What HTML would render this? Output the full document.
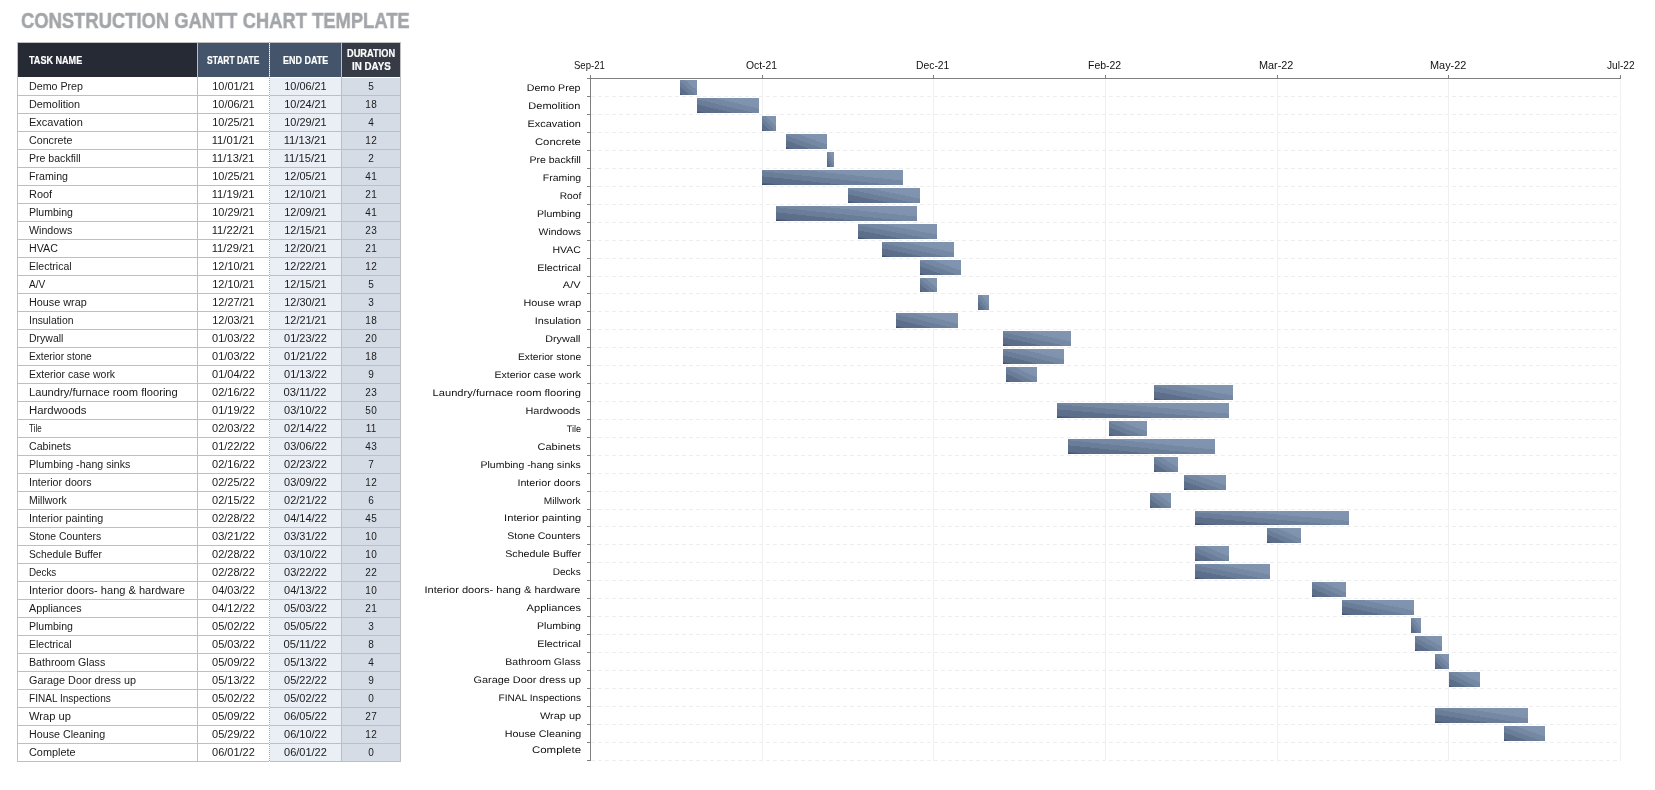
<!DOCTYPE html>
<html lang="en"><head><meta charset="utf-8"><title>Construction Gantt Chart Template</title>
<style>
html,body{margin:0;padding:0;background:#fff;}
body{width:1655px;height:790px;position:relative;overflow:hidden;font-family:"Liberation Sans",Arial,sans-serif;color:#1a1a1a;}
#tbl,#chart{position:absolute;left:0;top:0;width:1655px;height:790px;will-change:transform;}
#title{will-change:transform;}
.t{position:absolute;white-space:nowrap;}
.fx{display:inline-block;white-space:nowrap;}
.cell{position:absolute;height:17px;line-height:17px;font-size:10px;white-space:nowrap;overflow:hidden;}
.c0{left:18px;width:179px;}
.c0 .fx{margin-left:10.5px;transform-origin:0 50%;}
.c1{left:198px;width:71px;text-align:center;}
.c2{left:270px;width:71px;text-align:center;background:#eaeef5;}
.c3{left:342px;width:58px;text-align:center;background:#d6dce6;letter-spacing:0.3px;text-indent:0.3px;}
.hl{position:absolute;left:17px;width:384px;height:1px;background:#bfbfbf;}
.vl{position:absolute;width:1px;background:#bfbfbf;}
.hd{position:absolute;top:43px;height:34px;}
.ht{position:absolute;color:#fff;-webkit-text-stroke:0.2px #fff;font-weight:bold;font-size:10.4px;line-height:12px;white-space:nowrap;transform-origin:0 50%;}
.lab{position:absolute;right:1074.2px;height:18px;line-height:18px;font-size:9.6px;white-space:nowrap;text-align:right;color:#111;transform-origin:100% 50%;}
.xl{position:absolute;top:58px;font-size:10.5px;line-height:14px;white-space:nowrap;color:#111;transform-origin:0 50%;}
.bar{position:absolute;background:linear-gradient(to top right,#33425f 0,#4a5a77 4%,#56678a 8.5%,#5b6d88 8.5%,#5d6f8a 29%,#6a7d98 29%,#6b7e99 46%,#7488a3 46%,#7589a4 64.5%,#7f93ae 64.5%,#8195b0 100%);}
.gh{position:absolute;left:591px;width:1030px;height:1px;background:repeating-linear-gradient(to right,#eee 0,#eee 4.4px,transparent 4.4px,transparent 7px);}
.gv{position:absolute;width:1px;top:79px;height:682px;background:#f0f0f0;}
.tk{position:absolute;background:#7f7f7f;}
</style></head><body>
<div class="t" id="title" style="left:21.05px;top:8.5px;font-size:21.5px;font-weight:bold;color:#a3a6a9;-webkit-text-stroke:0.5px #a3a6a9;line-height:24px;transform-origin:0 50%;transform:scaleX(0.8550)">CONSTRUCTION GANTT CHART TEMPLATE</div>
<div id="tbl">
<div class="hd" style="left:18px;width:179px;background:#252a34;"></div><div class="hd" style="left:198px;width:71px;background:#44546a;"></div><div class="hd" style="left:270px;width:71px;background:#44546a;"></div><div class="hd" style="left:342px;width:58px;background:#363b45;"></div>
<div class="ht" style="left:29.00px;top:55.40px;transform:scaleX(0.8721)">TASK NAME</div><div class="ht" style="left:207.00px;top:55.40px;transform:scaleX(0.8141)">START DATE</div><div class="ht" style="left:283.30px;top:55.40px;transform:scaleX(0.8635)">END DATE</div><div class="ht" style="left:347.20px;top:48.40px;transform:scaleX(0.8889)">DURATION</div><div class="ht" style="left:352.00px;top:61.40px;transform:scaleX(0.9390)">IN DAYS</div>
<div class="cell c0" style="top:78px"><span class="fx" style="transform:scaleX(1.0673)">Demo Prep</span></div><div class="cell c1" style="top:78px"><span class="fx" style="transform:scaleX(1.0895)">10/01/21</span></div><div class="cell c2" style="top:78px"><span class="fx" style="transform:scaleX(1.0895)">10/06/21</span></div><div class="cell c3" style="top:78px">5</div>
<div class="cell c0" style="top:96px"><span class="fx" style="transform:scaleX(1.0826)">Demolition</span></div><div class="cell c1" style="top:96px"><span class="fx" style="transform:scaleX(1.0895)">10/06/21</span></div><div class="cell c2" style="top:96px"><span class="fx" style="transform:scaleX(1.0895)">10/24/21</span></div><div class="cell c3" style="top:96px">18</div>
<div class="cell c0" style="top:114px"><span class="fx" style="transform:scaleX(1.1000)">Excavation</span></div><div class="cell c1" style="top:114px"><span class="fx" style="transform:scaleX(1.0895)">10/25/21</span></div><div class="cell c2" style="top:114px"><span class="fx" style="transform:scaleX(1.0895)">10/29/21</span></div><div class="cell c3" style="top:114px">4</div>
<div class="cell c0" style="top:132px"><span class="fx" style="transform:scaleX(1.0683)">Concrete</span></div><div class="cell c1" style="top:132px"><span class="fx" style="transform:scaleX(1.1189)">11/01/21</span></div><div class="cell c2" style="top:132px"><span class="fx" style="transform:scaleX(1.1189)">11/13/21</span></div><div class="cell c3" style="top:132px">12</div>
<div class="cell c0" style="top:150px"><span class="fx" style="transform:scaleX(1.0563)">Pre backfill</span></div><div class="cell c1" style="top:150px"><span class="fx" style="transform:scaleX(1.1189)">11/13/21</span></div><div class="cell c2" style="top:150px"><span class="fx" style="transform:scaleX(1.1189)">11/15/21</span></div><div class="cell c3" style="top:150px">2</div>
<div class="cell c0" style="top:168px"><span class="fx" style="transform:scaleX(1.0629)">Framing</span></div><div class="cell c1" style="top:168px"><span class="fx" style="transform:scaleX(1.0895)">10/25/21</span></div><div class="cell c2" style="top:168px"><span class="fx" style="transform:scaleX(1.0895)">12/05/21</span></div><div class="cell c3" style="top:168px">41</div>
<div class="cell c0" style="top:186px"><span class="fx" style="transform:scaleX(1.0950)">Roof</span></div><div class="cell c1" style="top:186px"><span class="fx" style="transform:scaleX(1.1189)">11/19/21</span></div><div class="cell c2" style="top:186px"><span class="fx" style="transform:scaleX(1.0895)">12/10/21</span></div><div class="cell c3" style="top:186px">21</div>
<div class="cell c0" style="top:204px"><span class="fx" style="transform:scaleX(1.0537)">Plumbing</span></div><div class="cell c1" style="top:204px"><span class="fx" style="transform:scaleX(1.0895)">10/29/21</span></div><div class="cell c2" style="top:204px"><span class="fx" style="transform:scaleX(1.0895)">12/09/21</span></div><div class="cell c3" style="top:204px">41</div>
<div class="cell c0" style="top:222px"><span class="fx" style="transform:scaleX(1.0650)">Windows</span></div><div class="cell c1" style="top:222px"><span class="fx" style="transform:scaleX(1.1189)">11/22/21</span></div><div class="cell c2" style="top:222px"><span class="fx" style="transform:scaleX(1.0895)">12/15/21</span></div><div class="cell c3" style="top:222px">23</div>
<div class="cell c0" style="top:240px"><span class="fx" style="transform:scaleX(1.0692)">HVAC</span></div><div class="cell c1" style="top:240px"><span class="fx" style="transform:scaleX(1.1189)">11/29/21</span></div><div class="cell c2" style="top:240px"><span class="fx" style="transform:scaleX(1.0895)">12/20/21</span></div><div class="cell c3" style="top:240px">21</div>
<div class="cell c0" style="top:258px"><span class="fx" style="transform:scaleX(1.0487)">Electrical</span></div><div class="cell c1" style="top:258px"><span class="fx" style="transform:scaleX(1.0895)">12/10/21</span></div><div class="cell c2" style="top:258px"><span class="fx" style="transform:scaleX(1.0895)">12/22/21</span></div><div class="cell c3" style="top:258px">12</div>
<div class="cell c0" style="top:276px"><span class="fx" style="transform:scaleX(1.0125)">A/V</span></div><div class="cell c1" style="top:276px"><span class="fx" style="transform:scaleX(1.0895)">12/10/21</span></div><div class="cell c2" style="top:276px"><span class="fx" style="transform:scaleX(1.0895)">12/15/21</span></div><div class="cell c3" style="top:276px">5</div>
<div class="cell c0" style="top:294px"><span class="fx" style="transform:scaleX(1.0827)">House wrap</span></div><div class="cell c1" style="top:294px"><span class="fx" style="transform:scaleX(1.0895)">12/27/21</span></div><div class="cell c2" style="top:294px"><span class="fx" style="transform:scaleX(1.0895)">12/30/21</span></div><div class="cell c3" style="top:294px">3</div>
<div class="cell c0" style="top:312px"><span class="fx" style="transform:scaleX(1.0381)">Insulation</span></div><div class="cell c1" style="top:312px"><span class="fx" style="transform:scaleX(1.0895)">12/03/21</span></div><div class="cell c2" style="top:312px"><span class="fx" style="transform:scaleX(1.0895)">12/21/21</span></div><div class="cell c3" style="top:312px">18</div>
<div class="cell c0" style="top:330px"><span class="fx" style="transform:scaleX(1.0484)">Drywall</span></div><div class="cell c1" style="top:330px"><span class="fx" style="transform:scaleX(1.0974)">01/03/22</span></div><div class="cell c2" style="top:330px"><span class="fx" style="transform:scaleX(1.0974)">01/23/22</span></div><div class="cell c3" style="top:330px">20</div>
<div class="cell c0" style="top:348px"><span class="fx" style="transform:scaleX(1.0164)">Exterior stone</span></div><div class="cell c1" style="top:348px"><span class="fx" style="transform:scaleX(1.0974)">01/03/22</span></div><div class="cell c2" style="top:348px"><span class="fx" style="transform:scaleX(1.0974)">01/21/22</span></div><div class="cell c3" style="top:348px">18</div>
<div class="cell c0" style="top:366px"><span class="fx" style="transform:scaleX(1.0469)">Exterior case work</span></div><div class="cell c1" style="top:366px"><span class="fx" style="transform:scaleX(1.0974)">01/04/22</span></div><div class="cell c2" style="top:366px"><span class="fx" style="transform:scaleX(1.0974)">01/13/22</span></div><div class="cell c3" style="top:366px">9</div>
<div class="cell c0" style="top:384px"><span class="fx" style="transform:scaleX(1.1152)">Laundry/furnace room flooring</span></div><div class="cell c1" style="top:384px"><span class="fx" style="transform:scaleX(1.0974)">02/16/22</span></div><div class="cell c2" style="top:384px"><span class="fx" style="transform:scaleX(1.1263)">03/11/22</span></div><div class="cell c3" style="top:384px">23</div>
<div class="cell c0" style="top:402px"><span class="fx" style="transform:scaleX(1.1367)">Hardwoods</span></div><div class="cell c1" style="top:402px"><span class="fx" style="transform:scaleX(1.0974)">01/19/22</span></div><div class="cell c2" style="top:402px"><span class="fx" style="transform:scaleX(1.0974)">03/10/22</span></div><div class="cell c3" style="top:402px">50</div>
<div class="cell c0" style="top:420px"><span class="fx" style="transform:scaleX(0.8063)">Tile</span></div><div class="cell c1" style="top:420px"><span class="fx" style="transform:scaleX(1.0974)">02/03/22</span></div><div class="cell c2" style="top:420px"><span class="fx" style="transform:scaleX(1.0974)">02/14/22</span></div><div class="cell c3" style="top:420px">11</div>
<div class="cell c0" style="top:438px"><span class="fx" style="transform:scaleX(1.0641)">Cabinets</span></div><div class="cell c1" style="top:438px"><span class="fx" style="transform:scaleX(1.0974)">01/22/22</span></div><div class="cell c2" style="top:438px"><span class="fx" style="transform:scaleX(1.0974)">03/06/22</span></div><div class="cell c3" style="top:438px">43</div>
<div class="cell c0" style="top:456px"><span class="fx" style="transform:scaleX(1.0596)">Plumbing -hang sinks</span></div><div class="cell c1" style="top:456px"><span class="fx" style="transform:scaleX(1.0974)">02/16/22</span></div><div class="cell c2" style="top:456px"><span class="fx" style="transform:scaleX(1.0974)">02/23/22</span></div><div class="cell c3" style="top:456px">7</div>
<div class="cell c0" style="top:474px"><span class="fx" style="transform:scaleX(1.0621)">Interior doors</span></div><div class="cell c1" style="top:474px"><span class="fx" style="transform:scaleX(1.0974)">02/25/22</span></div><div class="cell c2" style="top:474px"><span class="fx" style="transform:scaleX(1.0974)">03/09/22</span></div><div class="cell c3" style="top:474px">12</div>
<div class="cell c0" style="top:492px"><span class="fx" style="transform:scaleX(1.0486)">Millwork</span></div><div class="cell c1" style="top:492px"><span class="fx" style="transform:scaleX(1.0974)">02/15/22</span></div><div class="cell c2" style="top:492px"><span class="fx" style="transform:scaleX(1.0974)">02/21/22</span></div><div class="cell c3" style="top:492px">6</div>
<div class="cell c0" style="top:510px"><span class="fx" style="transform:scaleX(1.0779)">Interior painting</span></div><div class="cell c1" style="top:510px"><span class="fx" style="transform:scaleX(1.0974)">02/28/22</span></div><div class="cell c2" style="top:510px"><span class="fx" style="transform:scaleX(1.0974)">04/14/22</span></div><div class="cell c3" style="top:510px">45</div>
<div class="cell c0" style="top:528px"><span class="fx" style="transform:scaleX(1.0377)">Stone Counters</span></div><div class="cell c1" style="top:528px"><span class="fx" style="transform:scaleX(1.0974)">03/21/22</span></div><div class="cell c2" style="top:528px"><span class="fx" style="transform:scaleX(1.0974)">03/31/22</span></div><div class="cell c3" style="top:528px">10</div>
<div class="cell c0" style="top:546px"><span class="fx" style="transform:scaleX(1.0282)">Schedule Buffer</span></div><div class="cell c1" style="top:546px"><span class="fx" style="transform:scaleX(1.0974)">02/28/22</span></div><div class="cell c2" style="top:546px"><span class="fx" style="transform:scaleX(1.0974)">03/10/22</span></div><div class="cell c3" style="top:546px">10</div>
<div class="cell c0" style="top:564px"><span class="fx" style="transform:scaleX(0.9815)">Decks</span></div><div class="cell c1" style="top:564px"><span class="fx" style="transform:scaleX(1.0974)">02/28/22</span></div><div class="cell c2" style="top:564px"><span class="fx" style="transform:scaleX(1.0974)">03/22/22</span></div><div class="cell c3" style="top:564px">22</div>
<div class="cell c0" style="top:582px"><span class="fx" style="transform:scaleX(1.1050)">Interior doors- hang &amp; hardware</span></div><div class="cell c1" style="top:582px"><span class="fx" style="transform:scaleX(1.0974)">04/03/22</span></div><div class="cell c2" style="top:582px"><span class="fx" style="transform:scaleX(1.0974)">04/13/22</span></div><div class="cell c3" style="top:582px">10</div>
<div class="cell c0" style="top:600px"><span class="fx" style="transform:scaleX(1.0735)">Appliances</span></div><div class="cell c1" style="top:600px"><span class="fx" style="transform:scaleX(1.0974)">04/12/22</span></div><div class="cell c2" style="top:600px"><span class="fx" style="transform:scaleX(1.0974)">05/03/22</span></div><div class="cell c3" style="top:600px">21</div>
<div class="cell c0" style="top:618px"><span class="fx" style="transform:scaleX(1.0537)">Plumbing</span></div><div class="cell c1" style="top:618px"><span class="fx" style="transform:scaleX(1.0974)">05/02/22</span></div><div class="cell c2" style="top:618px"><span class="fx" style="transform:scaleX(1.0974)">05/05/22</span></div><div class="cell c3" style="top:618px">3</div>
<div class="cell c0" style="top:636px"><span class="fx" style="transform:scaleX(1.0487)">Electrical</span></div><div class="cell c1" style="top:636px"><span class="fx" style="transform:scaleX(1.0974)">05/03/22</span></div><div class="cell c2" style="top:636px"><span class="fx" style="transform:scaleX(1.1263)">05/11/22</span></div><div class="cell c3" style="top:636px">8</div>
<div class="cell c0" style="top:654px"><span class="fx" style="transform:scaleX(1.0634)">Bathroom Glass</span></div><div class="cell c1" style="top:654px"><span class="fx" style="transform:scaleX(1.0974)">05/09/22</span></div><div class="cell c2" style="top:654px"><span class="fx" style="transform:scaleX(1.0974)">05/13/22</span></div><div class="cell c3" style="top:654px">4</div>
<div class="cell c0" style="top:672px"><span class="fx" style="transform:scaleX(1.0818)">Garage Door dress up</span></div><div class="cell c1" style="top:672px"><span class="fx" style="transform:scaleX(1.0974)">05/13/22</span></div><div class="cell c2" style="top:672px"><span class="fx" style="transform:scaleX(1.0974)">05/22/22</span></div><div class="cell c3" style="top:672px">9</div>
<div class="cell c0" style="top:690px"><span class="fx" style="transform:scaleX(1.0063)">FINAL Inspections</span></div><div class="cell c1" style="top:690px"><span class="fx" style="transform:scaleX(1.0974)">05/02/22</span></div><div class="cell c2" style="top:690px"><span class="fx" style="transform:scaleX(1.0974)">05/02/22</span></div><div class="cell c3" style="top:690px">0</div>
<div class="cell c0" style="top:708px"><span class="fx" style="transform:scaleX(1.1162)">Wrap up</span></div><div class="cell c1" style="top:708px"><span class="fx" style="transform:scaleX(1.0974)">05/09/22</span></div><div class="cell c2" style="top:708px"><span class="fx" style="transform:scaleX(1.0974)">06/05/22</span></div><div class="cell c3" style="top:708px">27</div>
<div class="cell c0" style="top:726px"><span class="fx" style="transform:scaleX(1.0700)">House Cleaning</span></div><div class="cell c1" style="top:726px"><span class="fx" style="transform:scaleX(1.0974)">05/29/22</span></div><div class="cell c2" style="top:726px"><span class="fx" style="transform:scaleX(1.0974)">06/10/22</span></div><div class="cell c3" style="top:726px">12</div>
<div class="cell c0" style="top:744px"><span class="fx" style="transform:scaleX(1.0860)">Complete</span></div><div class="cell c1" style="top:744px"><span class="fx" style="transform:scaleX(1.0974)">06/01/22</span></div><div class="cell c2" style="top:744px"><span class="fx" style="transform:scaleX(1.0974)">06/01/22</span></div><div class="cell c3" style="top:744px">0</div>
<div class="hl" style="top:42px"></div>
<div class="hl" style="top:95px"></div><div class="hl" style="top:113px"></div><div class="hl" style="top:131px"></div><div class="hl" style="top:149px"></div><div class="hl" style="top:167px"></div><div class="hl" style="top:185px"></div><div class="hl" style="top:203px"></div><div class="hl" style="top:221px"></div><div class="hl" style="top:239px"></div><div class="hl" style="top:257px"></div><div class="hl" style="top:275px"></div><div class="hl" style="top:293px"></div><div class="hl" style="top:311px"></div><div class="hl" style="top:329px"></div><div class="hl" style="top:347px"></div><div class="hl" style="top:365px"></div><div class="hl" style="top:383px"></div><div class="hl" style="top:401px"></div><div class="hl" style="top:419px"></div><div class="hl" style="top:437px"></div><div class="hl" style="top:455px"></div><div class="hl" style="top:473px"></div><div class="hl" style="top:491px"></div><div class="hl" style="top:509px"></div><div class="hl" style="top:527px"></div><div class="hl" style="top:545px"></div><div class="hl" style="top:563px"></div><div class="hl" style="top:581px"></div><div class="hl" style="top:599px"></div><div class="hl" style="top:617px"></div><div class="hl" style="top:635px"></div><div class="hl" style="top:653px"></div><div class="hl" style="top:671px"></div><div class="hl" style="top:689px"></div><div class="hl" style="top:707px"></div><div class="hl" style="top:725px"></div><div class="hl" style="top:743px"></div><div class="hl" style="top:761px"></div>
<div class="vl" style="left:17px;top:42px;height:720px"></div><div class="vl" style="left:197px;top:42px;height:720px"></div><div class="vl" style="left:341px;top:42px;height:720px"></div><div class="vl" style="left:400px;top:42px;height:720px"></div><div class="vl" style="left:269px;top:42px;height:720px;background:repeating-linear-gradient(to bottom,#a6a6a6 0,#a6a6a6 1px,#fff 1px,#fff 2px);"></div>
</div>
<div id="chart">
<div class="gh" style="top:96px"></div><div class="gh" style="top:114px"></div><div class="gh" style="top:132px"></div><div class="gh" style="top:150px"></div><div class="gh" style="top:168px"></div><div class="gh" style="top:186px"></div><div class="gh" style="top:204px"></div><div class="gh" style="top:222px"></div><div class="gh" style="top:240px"></div><div class="gh" style="top:258px"></div><div class="gh" style="top:276px"></div><div class="gh" style="top:293px"></div><div class="gh" style="top:311px"></div><div class="gh" style="top:329px"></div><div class="gh" style="top:347px"></div><div class="gh" style="top:365px"></div><div class="gh" style="top:383px"></div><div class="gh" style="top:401px"></div><div class="gh" style="top:419px"></div><div class="gh" style="top:437px"></div><div class="gh" style="top:455px"></div><div class="gh" style="top:473px"></div><div class="gh" style="top:491px"></div><div class="gh" style="top:509px"></div><div class="gh" style="top:526px"></div><div class="gh" style="top:544px"></div><div class="gh" style="top:562px"></div><div class="gh" style="top:580px"></div><div class="gh" style="top:598px"></div><div class="gh" style="top:616px"></div><div class="gh" style="top:634px"></div><div class="gh" style="top:652px"></div><div class="gh" style="top:670px"></div><div class="gh" style="top:688px"></div><div class="gh" style="top:706px"></div><div class="gh" style="top:724px"></div><div class="gh" style="top:742px"></div><div class="gh" style="top:760px"></div>
<div class="tk" style="left:590px;top:75px;width:1px;height:3px"></div><div class="xl" style="left:574.00px;transform:scaleX(0.9088)">Sep-21</div>
<div class="gv" style="left:762px"></div><div class="tk" style="left:762px;top:75px;width:1px;height:3px"></div><div class="xl" style="left:745.90px;transform:scaleX(0.9839)">Oct-21</div>
<div class="gv" style="left:933px"></div><div class="tk" style="left:933px;top:75px;width:1px;height:3px"></div><div class="xl" style="left:915.72px;transform:scaleX(0.9848)">Dec-21</div>
<div class="gv" style="left:1105px"></div><div class="tk" style="left:1105px;top:75px;width:1px;height:3px"></div><div class="xl" style="left:1088.40px;transform:scaleX(0.9969)">Feb-22</div>
<div class="gv" style="left:1277px"></div><div class="tk" style="left:1277px;top:75px;width:1px;height:3px"></div><div class="xl" style="left:1259.47px;transform:scaleX(1.0344)">Mar-22</div>
<div class="gv" style="left:1448px"></div><div class="tk" style="left:1448px;top:75px;width:1px;height:3px"></div><div class="xl" style="left:1429.86px;transform:scaleX(1.0382)">May-22</div>
<div class="gv" style="left:1620px"></div><div class="tk" style="left:1620px;top:75px;width:1px;height:3px"></div><div class="xl" style="left:1607.10px;transform:scaleX(0.9643)">Jul-22</div>
<div class="tk" style="left:590px;top:78px;width:1031px;height:1px"></div><div class="tk" style="left:590px;top:78px;width:1px;height:683px"></div>
<div class="tk" style="left:587px;top:78px;width:3px;height:1px"></div><div class="tk" style="left:587px;top:96px;width:3px;height:1px"></div><div class="tk" style="left:587px;top:114px;width:3px;height:1px"></div><div class="tk" style="left:587px;top:132px;width:3px;height:1px"></div><div class="tk" style="left:587px;top:150px;width:3px;height:1px"></div><div class="tk" style="left:587px;top:168px;width:3px;height:1px"></div><div class="tk" style="left:587px;top:186px;width:3px;height:1px"></div><div class="tk" style="left:587px;top:204px;width:3px;height:1px"></div><div class="tk" style="left:587px;top:222px;width:3px;height:1px"></div><div class="tk" style="left:587px;top:240px;width:3px;height:1px"></div><div class="tk" style="left:587px;top:258px;width:3px;height:1px"></div><div class="tk" style="left:587px;top:276px;width:3px;height:1px"></div><div class="tk" style="left:587px;top:293px;width:3px;height:1px"></div><div class="tk" style="left:587px;top:311px;width:3px;height:1px"></div><div class="tk" style="left:587px;top:329px;width:3px;height:1px"></div><div class="tk" style="left:587px;top:347px;width:3px;height:1px"></div><div class="tk" style="left:587px;top:365px;width:3px;height:1px"></div><div class="tk" style="left:587px;top:383px;width:3px;height:1px"></div><div class="tk" style="left:587px;top:401px;width:3px;height:1px"></div><div class="tk" style="left:587px;top:419px;width:3px;height:1px"></div><div class="tk" style="left:587px;top:437px;width:3px;height:1px"></div><div class="tk" style="left:587px;top:455px;width:3px;height:1px"></div><div class="tk" style="left:587px;top:473px;width:3px;height:1px"></div><div class="tk" style="left:587px;top:491px;width:3px;height:1px"></div><div class="tk" style="left:587px;top:509px;width:3px;height:1px"></div><div class="tk" style="left:587px;top:526px;width:3px;height:1px"></div><div class="tk" style="left:587px;top:544px;width:3px;height:1px"></div><div class="tk" style="left:587px;top:562px;width:3px;height:1px"></div><div class="tk" style="left:587px;top:580px;width:3px;height:1px"></div><div class="tk" style="left:587px;top:598px;width:3px;height:1px"></div><div class="tk" style="left:587px;top:616px;width:3px;height:1px"></div><div class="tk" style="left:587px;top:634px;width:3px;height:1px"></div><div class="tk" style="left:587px;top:652px;width:3px;height:1px"></div><div class="tk" style="left:587px;top:670px;width:3px;height:1px"></div><div class="tk" style="left:587px;top:688px;width:3px;height:1px"></div><div class="tk" style="left:587px;top:706px;width:3px;height:1px"></div><div class="tk" style="left:587px;top:724px;width:3px;height:1px"></div><div class="tk" style="left:587px;top:742px;width:3px;height:1px"></div><div class="tk" style="left:587px;top:760px;width:3px;height:1px"></div>
<div class="lab" style="top:78.60px;transform:scaleX(1.1082) rotate(0.03deg)">Demo Prep</div><div class="bar" style="left:679.77px;top:79.90px;width:17.17px;height:15.00px"></div>
<div class="lab" style="top:96.60px;transform:scaleX(1.1467) rotate(0.03deg)">Demolition</div><div class="bar" style="left:696.93px;top:97.90px;width:61.80px;height:15.00px"></div>
<div class="lab" style="top:114.60px;transform:scaleX(1.1383) rotate(0.03deg)">Excavation</div><div class="bar" style="left:762.17px;top:115.90px;width:13.73px;height:15.00px"></div>
<div class="lab" style="top:132.60px;transform:scaleX(1.1821) rotate(0.03deg)">Concrete</div><div class="bar" style="left:786.20px;top:133.90px;width:41.20px;height:15.00px"></div>
<div class="lab" style="top:150.60px;transform:scaleX(1.0979) rotate(0.03deg)">Pre backfill</div><div class="bar" style="left:827.40px;top:151.90px;width:6.87px;height:15.00px"></div>
<div class="lab" style="top:168.60px;transform:scaleX(1.0914) rotate(0.03deg)">Framing</div><div class="bar" style="left:762.17px;top:169.90px;width:140.77px;height:15.00px"></div>
<div class="lab" style="top:186.60px;transform:scaleX(1.0650) rotate(0.03deg)">Roof</div><div class="bar" style="left:848.00px;top:187.90px;width:72.10px;height:15.00px"></div>
<div class="lab" style="top:204.60px;transform:scaleX(1.1000) rotate(0.03deg)">Plumbing</div><div class="bar" style="left:775.90px;top:205.90px;width:140.77px;height:15.00px"></div>
<div class="lab" style="top:222.60px;transform:scaleX(1.0872) rotate(0.03deg)">Windows</div><div class="bar" style="left:858.30px;top:223.90px;width:78.97px;height:15.00px"></div>
<div class="lab" style="top:240.60px;transform:scaleX(1.1000) rotate(0.03deg)">HVAC</div><div class="bar" style="left:882.33px;top:241.90px;width:72.10px;height:15.00px"></div>
<div class="lab" style="top:258.60px;transform:scaleX(1.1205) rotate(0.03deg)">Electrical</div><div class="bar" style="left:920.10px;top:259.90px;width:41.20px;height:15.00px"></div>
<div class="lab" style="top:276.10px;transform:scaleX(1.1375) rotate(0.03deg)">A/V</div><div class="bar" style="left:920.10px;top:277.82px;width:17.17px;height:14.17px"></div>
<div class="lab" style="top:293.60px;transform:scaleX(1.1275) rotate(0.03deg)">House wrap</div><div class="bar" style="left:978.47px;top:294.90px;width:10.30px;height:15.00px"></div>
<div class="lab" style="top:311.60px;transform:scaleX(1.1275) rotate(0.03deg)">Insulation</div><div class="bar" style="left:896.07px;top:312.90px;width:61.80px;height:15.00px"></div>
<div class="lab" style="top:329.60px;transform:scaleX(1.1194) rotate(0.03deg)">Drywall</div><div class="bar" style="left:1002.50px;top:330.90px;width:68.67px;height:15.00px"></div>
<div class="lab" style="top:347.60px;transform:scaleX(1.0678) rotate(0.03deg)">Exterior stone</div><div class="bar" style="left:1002.50px;top:348.90px;width:61.80px;height:15.00px"></div>
<div class="lab" style="top:365.60px;transform:scaleX(1.0949) rotate(0.03deg)">Exterior case work</div><div class="bar" style="left:1005.93px;top:366.90px;width:30.90px;height:15.00px"></div>
<div class="lab" style="top:383.60px;transform:scaleX(1.1594) rotate(0.03deg)">Laundry/furnace room flooring</div><div class="bar" style="left:1153.57px;top:384.90px;width:78.97px;height:15.00px"></div>
<div class="lab" style="top:401.60px;transform:scaleX(1.1347) rotate(0.03deg)">Hardwoods</div><div class="bar" style="left:1057.43px;top:402.90px;width:171.67px;height:15.00px"></div>
<div class="lab" style="top:419.60px;transform:scaleX(0.9467) rotate(0.03deg)">Tile</div><div class="bar" style="left:1108.93px;top:420.90px;width:37.77px;height:15.00px"></div>
<div class="lab" style="top:437.60px;transform:scaleX(1.1447) rotate(0.03deg)">Cabinets</div><div class="bar" style="left:1067.73px;top:438.90px;width:147.63px;height:15.00px"></div>
<div class="lab" style="top:455.60px;transform:scaleX(1.0924) rotate(0.03deg)">Plumbing -hang sinks</div><div class="bar" style="left:1153.57px;top:456.90px;width:24.03px;height:15.00px"></div>
<div class="lab" style="top:473.60px;transform:scaleX(1.1161) rotate(0.03deg)">Interior doors</div><div class="bar" style="left:1184.47px;top:474.90px;width:41.20px;height:15.00px"></div>
<div class="lab" style="top:491.60px;transform:scaleX(1.0629) rotate(0.03deg)">Millwork</div><div class="bar" style="left:1150.13px;top:492.90px;width:20.60px;height:15.00px"></div>
<div class="lab" style="top:509.10px;transform:scaleX(1.1646) rotate(0.03deg)">Interior painting</div><div class="bar" style="left:1194.77px;top:510.82px;width:154.50px;height:14.17px"></div>
<div class="lab" style="top:526.60px;transform:scaleX(1.1030) rotate(0.03deg)">Stone Counters</div><div class="bar" style="left:1266.87px;top:527.90px;width:34.33px;height:15.00px"></div>
<div class="lab" style="top:544.60px;transform:scaleX(1.1147) rotate(0.03deg)">Schedule Buffer</div><div class="bar" style="left:1194.77px;top:545.90px;width:34.33px;height:15.00px"></div>
<div class="lab" style="top:562.60px;transform:scaleX(1.0481) rotate(0.03deg)">Decks</div><div class="bar" style="left:1194.77px;top:563.90px;width:75.53px;height:15.00px"></div>
<div class="lab" style="top:580.60px;transform:scaleX(1.1515) rotate(0.03deg)">Interior doors- hang &amp; hardware</div><div class="bar" style="left:1311.50px;top:581.90px;width:34.33px;height:15.00px"></div>
<div class="lab" style="top:598.60px;transform:scaleX(1.1574) rotate(0.03deg)">Appliances</div><div class="bar" style="left:1342.40px;top:599.90px;width:72.10px;height:15.00px"></div>
<div class="lab" style="top:616.60px;transform:scaleX(1.1000) rotate(0.03deg)">Plumbing</div><div class="bar" style="left:1411.07px;top:617.90px;width:10.30px;height:15.00px"></div>
<div class="lab" style="top:634.60px;transform:scaleX(1.1205) rotate(0.03deg)">Electrical</div><div class="bar" style="left:1414.50px;top:635.90px;width:27.47px;height:15.00px"></div>
<div class="lab" style="top:652.60px;transform:scaleX(1.0971) rotate(0.03deg)">Bathroom Glass</div><div class="bar" style="left:1435.10px;top:653.90px;width:13.73px;height:15.00px"></div>
<div class="lab" style="top:670.60px;transform:scaleX(1.1305) rotate(0.03deg)">Garage Door dress up</div><div class="bar" style="left:1448.83px;top:671.90px;width:30.90px;height:15.00px"></div>
<div class="lab" style="top:688.60px;transform:scaleX(1.0577) rotate(0.03deg)">FINAL Inspections</div>
<div class="lab" style="top:706.60px;transform:scaleX(1.1417) rotate(0.03deg)">Wrap up</div><div class="bar" style="left:1435.10px;top:707.90px;width:92.70px;height:15.00px"></div>
<div class="lab" style="top:724.60px;transform:scaleX(1.1206) rotate(0.03deg)">House Cleaning</div><div class="bar" style="left:1503.77px;top:725.90px;width:41.20px;height:15.00px"></div>
<div class="lab" style="top:741.20px;transform:scaleX(1.1976) rotate(0.03deg)">Complete</div>
</div>
</body></html>
